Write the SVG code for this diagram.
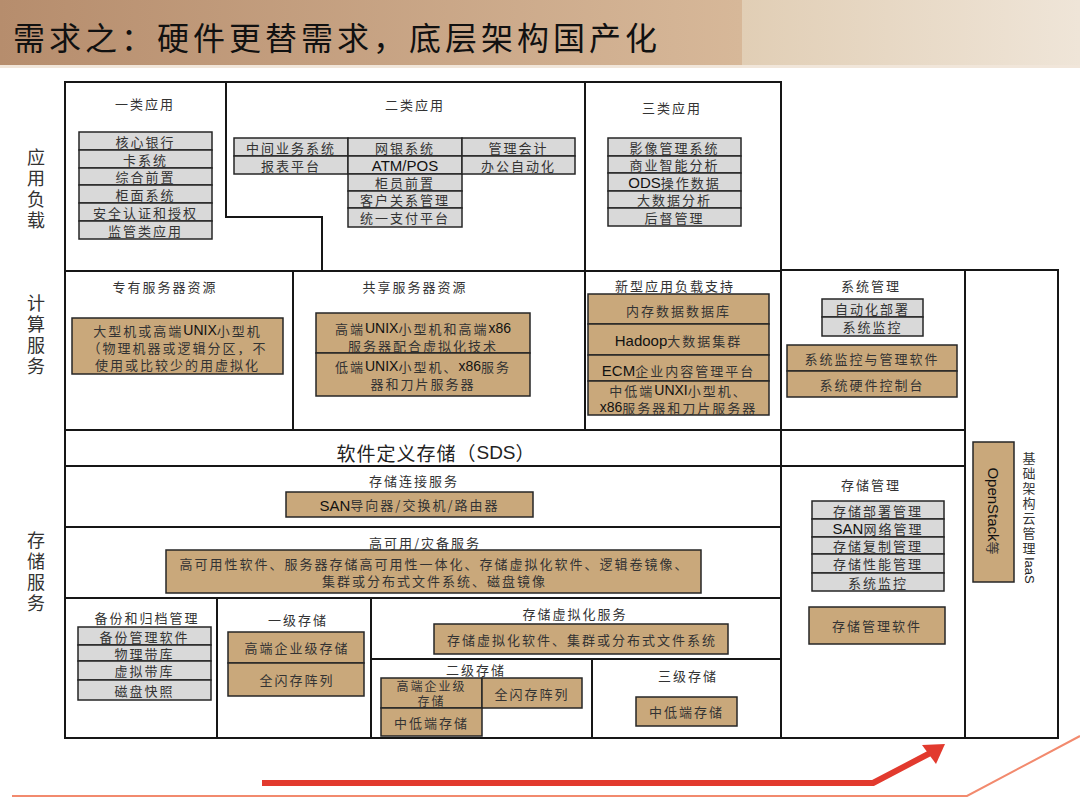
<svg xmlns="http://www.w3.org/2000/svg" width="1080" height="809" viewBox="0 0 1080 809">
<defs>
<linearGradient id="hdrL" x1="0" x2="1" y1="0" y2="0"><stop offset="0" stop-color="#b68d6d"/><stop offset="1" stop-color="#d7b899"/></linearGradient>
<linearGradient id="hdrR" x1="0" x2="1" y1="0" y2="0"><stop offset="0" stop-color="#e1ceb5"/><stop offset="1" stop-color="#efe5d8"/></linearGradient>
<style>
.f{fill:none;stroke:#161616;stroke-width:2;stroke-linecap:square}
.g{fill:#d9d9d9;stroke:#262626;stroke-width:1.5}
.b{fill:#c9a87b;stroke:#262626;stroke-width:1.5}
text{font-family:"Noto Sans CJK SC","Noto Sans CJK JP",sans-serif}
.t{font-size:13px;fill:#333;text-anchor:middle;dominant-baseline:central;letter-spacing:2px}
.l{font-family:"Liberation Sans",Arial,sans-serif;font-size:15px;fill:#111;letter-spacing:0}
.m{font-family:"Liberation Sans",Arial,sans-serif;font-size:14px;fill:#111;letter-spacing:0}
.side{font-size:18px;fill:#333;writing-mode:vertical-rl;letter-spacing:3px}
.title{font-size:32px;fill:#111;letter-spacing:4px;dominant-baseline:central}
</style>
</defs>
<rect x="0" y="0" width="1080" height="809" fill="#ffffff"/>
<g id="header">
<rect x="0" y="0" width="742" height="65" fill="url(#hdrL)"/>
<rect x="742" y="0" width="338" height="65" fill="url(#hdrR)"/>
<rect x="0" y="65" width="1080" height="3" fill="#f1e6da"/>
<text class="title" x="13" y="36">需求之：硬件更替需求，底层架构国产化</text>
</g>
<g id="side-labels">
<text class="side" x="36" y="148">应用负载</text>
<text class="side" x="36" y="294">计算服务</text>
<text class="side" x="36" y="531">存储服务</text>
</g>
<g id="frame">
<path class="f" d="M65,82 H781 M65,82 V738 M226,82 V217 H322 V271 M585,82 V430 M781,82 V738 M65,271 H781 M781,270 H1058 M293,271 V430 M965,270 V738 M1058,270 V738 M65,430 H965 M65,466 H965 M65,527 H781 M65,598 H781 M65,738 H1058 M217,598 V738 M371,598 V738 M371,659 H781 M592,659 V738"/>
</g>
<g id="n-app1">
<text class="t" x="145" y="103">一类应用</text>
<rect class="g" x="79" y="132" width="133" height="18"/><text class="t" x="145.5" y="141">核心银行</text>
<rect class="g" x="79" y="150" width="133" height="18"/><text class="t" x="145.5" y="159">卡系统</text>
<rect class="g" x="79" y="168" width="133" height="17"/><text class="t" x="145.5" y="176.5">综合前置</text>
<rect class="g" x="79" y="185" width="133" height="18"/><text class="t" x="145.5" y="194">柜面系统</text>
<rect class="g" x="79" y="203" width="133" height="18"/><text class="t" x="145.5" y="212">安全认证和授权</text>
<rect class="g" x="79" y="221" width="133" height="18"/><text class="t" x="145.5" y="230">监管类应用</text>
</g>
<g id="n-app2">
<text class="t" x="415" y="104">二类应用</text>
<rect class="g" x="234" y="138" width="114" height="18"/><text class="t" x="291" y="147">中间业务系统</text>
<rect class="g" x="234" y="156" width="114" height="18"/><text class="t" x="291" y="165">报表平台</text>
<rect class="g" x="348" y="138" width="114" height="18"/><text class="t" x="405" y="147">网银系统</text>
<rect class="g" x="348" y="156" width="114" height="18"/><text class="t" x="405" y="165"><tspan class="l">ATM/POS</tspan></text>
<rect class="g" x="348" y="174" width="114" height="17"/><text class="t" x="405" y="182.5">柜员前置</text>
<rect class="g" x="348" y="191" width="114" height="17"/><text class="t" x="405" y="199.5">客户关系管理</text>
<rect class="g" x="348" y="208" width="114" height="19"/><text class="t" x="405" y="217.5">统一支付平台</text>
<rect class="g" x="462" y="138" width="113" height="18"/><text class="t" x="518.5" y="147">管理会计</text>
<rect class="g" x="462" y="156" width="113" height="18"/><text class="t" x="518.5" y="165">办公自动化</text>
</g>
<g id="n-app3">
<text class="t" x="672" y="107">三类应用</text>
<rect class="g" x="608" y="138" width="133" height="18"/><text class="t" x="674.5" y="147">影像管理系统</text>
<rect class="g" x="608" y="156" width="133" height="17"/><text class="t" x="674.5" y="164.5">商业智能分析</text>
<rect class="g" x="608" y="173" width="133" height="18"/><text class="t" x="674.5" y="182"><tspan class="l">ODS</tspan>操作数据</text>
<rect class="g" x="608" y="191" width="133" height="17"/><text class="t" x="674.5" y="199.5">大数据分析</text>
<rect class="g" x="608" y="208" width="133" height="18"/><text class="t" x="674.5" y="217">后督管理</text>
</g>
<g id="n-compute-dedicated">
<text class="t" x="165" y="286">专有服务器资源</text>
<rect class="b" x="72" y="318" width="211" height="56"/>
<text class="t" x="177.5" y="330">大型机或高端<tspan class="m">UNIX</tspan>小型机</text>
<text class="t" x="177.5" y="347">（物理机器或逻辑分区，不</text>
<text class="t" x="177.5" y="364">使用或比较少的用虚拟化</text>
</g>
<g id="n-compute-shared">
<text class="t" x="415" y="286">共享服务器资源</text>
<rect class="b" x="316" y="313" width="214" height="40"/>
<text class="t" x="423" y="328">高端<tspan class="m">UNIX</tspan>小型机和高端<tspan class="m">x86</tspan></text>
<text class="t" x="423" y="345">服务器配合虚拟化技术</text>
<rect class="b" x="316" y="353" width="214" height="43"/>
<text class="t" x="423" y="366">低端<tspan class="m">UNIX</tspan>小型机、<tspan class="m">x86</tspan>服务</text>
<text class="t" x="423" y="383">器和刀片服务器</text>
</g>
<g id="n-compute-new">
<text class="t" x="675" y="285">新型应用负载支持</text>
<rect class="b" x="588" y="294" width="181" height="30"/><text class="t" x="678.5" y="310">内存数据数据库</text>
<rect class="b" x="588" y="324" width="181" height="31"/><text class="t" x="678.5" y="340"><tspan class="l">Hadoop</tspan>大数据集群</text>
<rect class="b" x="588" y="355" width="181" height="26"/><text class="t" x="678.5" y="370"><tspan class="l">ECM</tspan>企业内容管理平台</text>
<rect class="b" x="588" y="381" width="181" height="34"/>
<text class="t" x="678.5" y="390">中低端<tspan class="m">UNXI</tspan>小型机、</text>
<text class="t" x="678.5" y="407"><tspan class="m">x86</tspan>服务器和刀片服务器</text>
</g>
<g id="n-sysmgmt">
<text class="t" x="871" y="285">系统管理</text>
<rect class="g" x="822" y="299" width="101" height="18"/><text class="t" x="872.5" y="308">自动化部署</text>
<rect class="g" x="822" y="317" width="101" height="19"/><text class="t" x="872.5" y="326.5">系统监控</text>
<rect class="b" x="787" y="345" width="170" height="26"/><text class="t" x="872" y="358">系统监控与管理软件</text>
<rect class="b" x="787" y="371" width="170" height="26"/><text class="t" x="872" y="384">系统硬件控制台</text>
</g>
<g id="n-sds">
<text x="436" y="452" style="font-size:19px;fill:#222;text-anchor:middle;dominant-baseline:central;letter-spacing:1px">软件定义存储（<tspan style="font-family:'Liberation Sans',Arial,sans-serif;letter-spacing:0">SDS</tspan>）</text>
</g>
<g id="n-storage-conn">
<text class="t" x="414" y="480">存储连接服务</text>
<rect class="b" x="286" y="492" width="247" height="25"/>
<text class="t" x="409.5" y="504.5"><tspan class="l">SAN</tspan>导向器/交换机/路由器</text>
</g>
<g id="n-ha">
<text class="t" x="425" y="542">高可用/灾备服务</text>
<rect class="b" x="166" y="550" width="535" height="43"/>
<text class="t" x="434.5" y="563.5">高可用性软件、服务器存储高可用性一体化、存储虚拟化软件、逻辑卷镜像、</text>
<text class="t" x="434.5" y="580.5">集群或分布式文件系统、磁盘镜像</text>
</g>
<g id="n-backup">
<text class="t" x="147" y="617">备份和归档管理</text>
<rect class="g" x="78" y="627" width="133" height="18"/><text class="t" x="144.5" y="636">备份管理软件</text>
<rect class="g" x="78" y="645" width="133" height="16"/><text class="t" x="144.5" y="653">物理带库</text>
<rect class="g" x="78" y="661" width="133" height="19"/><text class="t" x="144.5" y="670.5">虚拟带库</text>
<rect class="g" x="78" y="680" width="133" height="20"/><text class="t" x="144.5" y="690">磁盘快照</text>
</g>
<g id="n-tier1">
<text class="t" x="298" y="619">一级存储</text>
<rect class="b" x="228" y="632" width="136" height="31"/><text class="t" x="297" y="647.5">高端企业级存储</text>
<rect class="b" x="228" y="663" width="136" height="33"/><text class="t" x="297" y="679.5">全闪存阵列</text>
</g>
<g id="n-storage-virt">
<text class="t" x="575" y="613">存储虚拟化服务</text>
<rect class="b" x="434" y="624" width="294" height="30"/>
<text class="t" x="582" y="639">存储虚拟化软件、集群或分布式文件系统</text>
</g>
<g id="n-tier2">
<text class="t" x="476" y="669">二级存储</text>
<rect class="b" x="381" y="678" width="101" height="30"/>
<text class="t" x="431.5" y="685.5" style="font-size:12px">高端企业级</text>
<text class="t" x="431.5" y="700.5" style="font-size:12px">存储</text>
<rect class="b" x="482" y="678" width="100" height="30"/><text class="t" x="532" y="693">全闪存阵列</text>
<rect class="b" x="381" y="708" width="101" height="28"/><text class="t" x="431.5" y="722">中低端存储</text>
</g>
<g id="n-tier3">
<text class="t" x="688" y="675">三级存储</text>
<rect class="b" x="636" y="697" width="101" height="29"/><text class="t" x="686.5" y="711.5">中低端存储</text>
</g>
<g id="n-storage-mgmt">
<text class="t" x="871" y="484">存储管理</text>
<rect class="g" x="812" y="501" width="132" height="18"/><text class="t" x="878" y="510">存储部署管理</text>
<rect class="g" x="812" y="519" width="132" height="18"/><text class="t" x="878" y="528"><tspan class="l">SAN</tspan>网络管理</text>
<rect class="g" x="812" y="537" width="132" height="17"/><text class="t" x="878" y="545.5">存储复制管理</text>
<rect class="g" x="812" y="554" width="132" height="19"/><text class="t" x="878" y="563.5">存储性能管理</text>
<rect class="g" x="812" y="573" width="132" height="18"/><text class="t" x="878" y="582">系统监控</text>
<rect class="b" x="809" y="607" width="136" height="37"/><text class="t" x="877" y="625.5">存储管理软件</text>
</g>
<g id="n-iaas">
<rect class="b" x="973" y="442" width="41" height="140"/>
<text class="t" transform="translate(993.5,511) rotate(90)" x="0" y="0" style="letter-spacing:0"><tspan class="l">OpenStack</tspan>等</text>
<text x="1029" y="452" style="writing-mode:vertical-rl;font-size:13px;fill:#333;letter-spacing:2px">基础架构云管理<tspan style="font-family:'Liberation Sans',Arial,sans-serif;letter-spacing:0;fill:#222">IaaS</tspan></text>
</g>
<g id="connectors">
<path d="M262,783 H873 L936,750" fill="none" stroke="#e23a2e" stroke-width="6" stroke-linejoin="round"/>
<polygon points="945,744 922,745 936,764" fill="#e23a2e"/>
<path d="M12,796 H967 L1080,736" fill="none" stroke="#f28a6e" stroke-width="2"/>
</g>
</svg>
